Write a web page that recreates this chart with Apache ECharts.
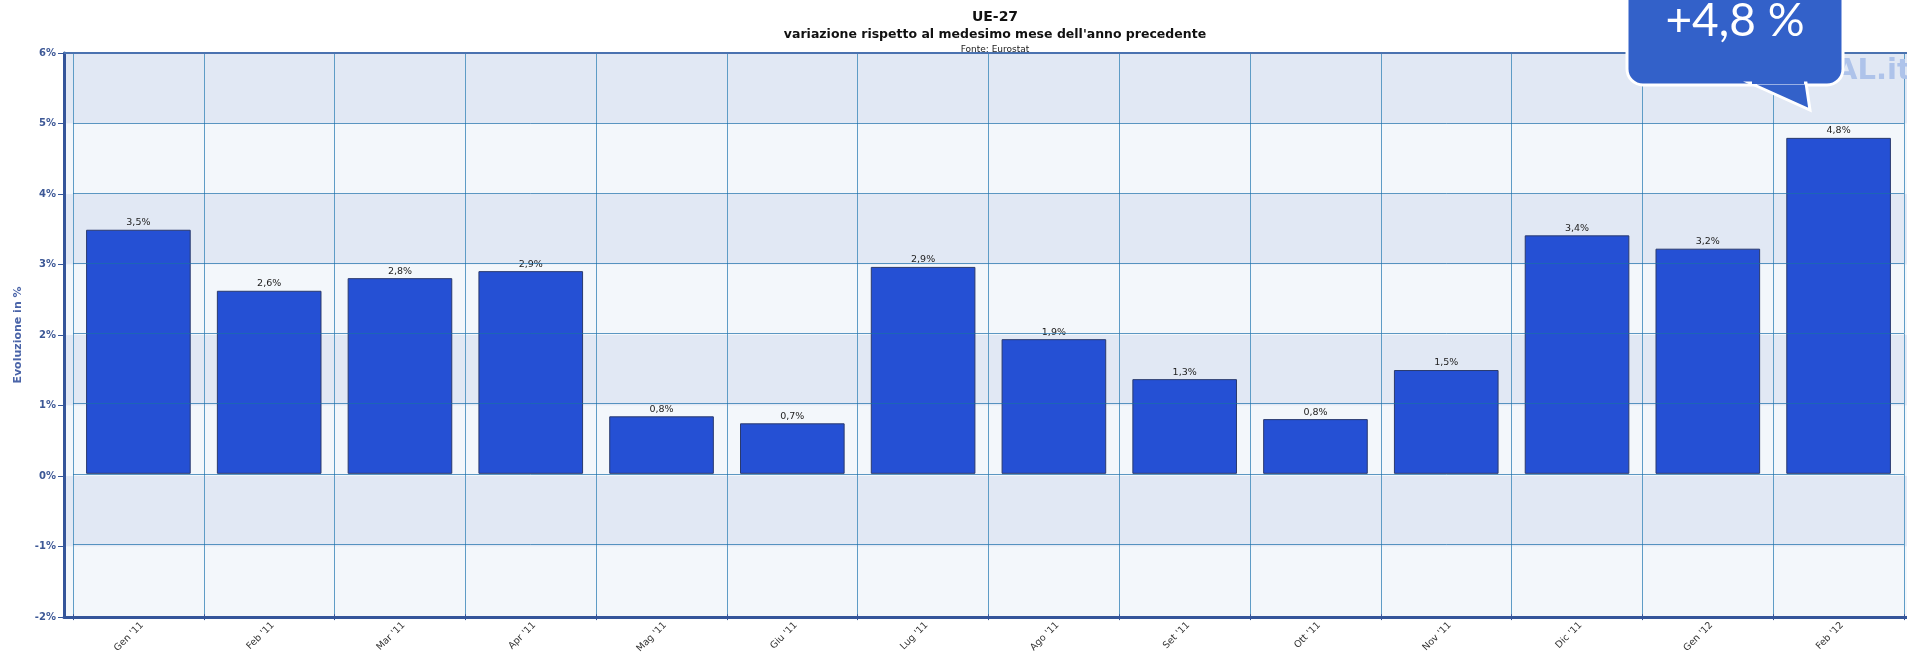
<!DOCTYPE html>
<html>
<head>
<meta charset="utf-8">
<script src="https://cdn.jsdelivr.net/npm/echarts@6/dist/echarts.min.js"></script>
<style>
html,body{margin:0;padding:0;background:#fff;}
#c{width:1907px;height:656px;}
</style>
</head>
<body>
<div id="c"></div>
<script>
const categories = ["Gen '11","Feb '11","Mar '11","Apr '11","Mag '11","Giu '11","Lug '11","Ago '11","Set '11","Ott '11","Nov '11","Dic '11","Gen '12","Feb '12"];
const values = [3.48, 2.61, 2.79, 2.89, 0.82, 0.72, 2.95, 1.92, 1.35, 0.78, 1.48, 3.40, 3.21, 4.79];
const valueLabels = ["3,5%","2,6%","2,8%","2,9%","0,8%","0,7%","2,9%","1,9%","1,3%","0,8%","1,5%","3,4%","3,2%","4,8%"];
const yMin = -2, yMax = 6, yStep = 1;
const titleText = "UE-27";
const subtitleText = "variazione rispetto al medesimo mese dell'anno precedente";
const sourceText = "Fonte: Eurostat";
const yAxisName = "Evoluzione in %";
const calloutText = "+4,8 %";

const chart = echarts.init(document.getElementById('c'), null, {renderer:'canvas'});
const AX = '#34559a';
const GRIDLINE = 'rgba(25,110,170,0.7)';
const FONT = '"DejaVu Sans", Verdana, sans-serif';

chart.setOption({
  animation: false,
  backgroundColor: '#ffffff',
  title: [
    {text: titleText, left: 990, textAlign: 'center', top: 5, textStyle:{fontFamily: FONT, fontSize: 14, fontWeight:'bold', color:'#111'}},
    {text: subtitleText, left: 990, textAlign: 'center', top: 23, textStyle:{fontFamily: FONT, fontSize: 12.5, fontWeight:'bold', color:'#111'}},
    {text: sourceText, left: 990, textAlign: 'center', top: 40, textStyle:{fontFamily: FONT, fontSize: 9, fontWeight:'normal', color:'#222'}}
  ],
  grid: [
    {left: 64, right: 0, top: 53, bottom: 39, containLabel: false},
    {left: 73, right: 3, top: 53, bottom: 39, containLabel: false}
  ],
  xAxis: [
    {gridIndex: 0, type:'value', min:0, max:1, position:'bottom',
     axisLine:{show:true, onZero:false, lineStyle:{color:AX, width:3}}, axisTick:{show:false}, axisLabel:{show:false}, splitLine:{show:false}},
    {gridIndex: 0, type:'value', min:0, max:1, position:'top',
     axisLine:{show:true, onZero:false, lineStyle:{color:'#4a72b0', width:2}}, axisTick:{show:false}, axisLabel:{show:false}, splitLine:{show:false}},
    {gridIndex: 1, type:'category', data: categories, boundaryGap: true, position:'bottom',
     axisLine:{show:false, onZero:false}, axisTick:{show:true, length:6, lineStyle:{color:AX}},
     axisLabel:{rotate:45, fontFamily: FONT, fontSize: 9.5, color:'#333', margin: 6, interval:0, verticalAlign:'top'},
     splitLine:{show:true, interval:0, lineStyle:{color:'#5e9cc6', width:1}}}
  ],
  yAxis: [
    {gridIndex: 0, type:'value', min:yMin, max:yMax, interval:yStep,
     name: yAxisName, nameLocation:'middle', nameGap: 40, nameRotate: 90,
     nameTextStyle:{fontFamily: FONT, fontSize: 11, fontWeight:'bold', color:'#4a64a8'},
     axisLine:{show:true, onZero:false, lineStyle:{color:AX, width:3}},
     axisTick:{show:true, length:6, lineStyle:{color:AX}},
     axisLabel:{formatter: v => v + '%', fontFamily: FONT, fontSize: 10, fontWeight:'bold', color:'#3d5896', margin: 8},
     splitLine:{show:false},
     splitArea:{show:true, areaStyle:{color:['#f3f7fb','#e1e8f4']}}},
    {gridIndex: 1, type:'value', min:yMin, max:yMax, interval:yStep, z: 5,
     axisLine:{show:false, onZero:false}, axisTick:{show:false}, axisLabel:{show:false},
     splitLine:{show:true, showMinLine:false, showMaxLine:false, lineStyle:{color:GRIDLINE, width:1}}}
  ],
  graphic: [
    {type:'text', left: 1835, top: 57, z: 1, silent:true,
     style:{text:'AL.it', fontFamily:'"DejaVu Sans", sans-serif', fontSize: 29, fontWeight:'bold', fill:'#aec3ea'}},
    {type:'rect', z: 100, shape:{x:1627, y:-30, width:216, height:115, r:16},
     style:{fill:'#3361c9', stroke:'#ffffff', lineWidth:3}},
    {type:'polygon', z: 101, shape:{points:[[1750,83],[1810,110],[1806,83]]},
     style:{fill:'#3361c9', stroke:'#ffffff', lineWidth:3}},
    {type:'rect', z: 102, shape:{x:1752, y:76, width:52, height:8},
     style:{fill:'#3361c9'}},
    {type:'text', z: 103, x: 1735, y: 21,
     style:{text: calloutText, fontFamily:'Lato, "Open Sans", sans-serif', fontSize: 46, fontWeight:'normal', fill:'#ffffff', align:'center', verticalAlign:'middle'}}
  ],
  series: [{
    type:'bar', xAxisIndex: 2, yAxisIndex: 1, data: values, barCategoryGap: '20%',
    itemStyle:{color:'#2550d4', borderColor:'#2a3a6e', borderWidth:1},
    label:{show:true, position:'top', distance: 2, fontFamily: FONT, fontSize: 9.5, color:'#222',
           formatter: p => valueLabels[p.dataIndex]}
  }]
});
</script>
</body>
</html>
